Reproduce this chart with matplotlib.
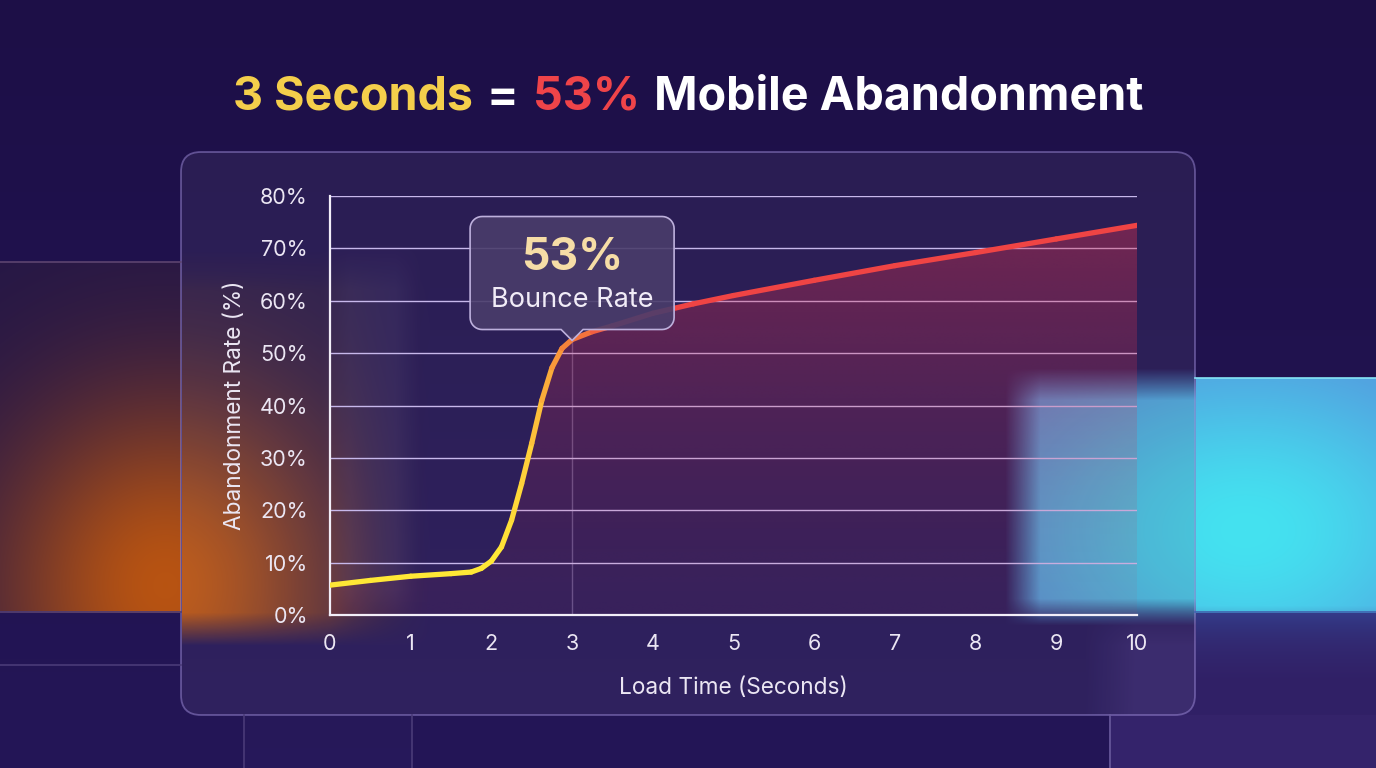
import numpy as np
import matplotlib
matplotlib.use("Agg")
import matplotlib.pyplot as plt
from matplotlib.collections import LineCollection
from matplotlib.colors import LinearSegmentedColormap, Normalize, to_rgb
from matplotlib.patches import FancyBboxPatch, Polygon

plt.rcParams['font.family'] = ['Inter', 'DejaVu Sans']

# data
load_time = [0, 0.5, 1, 1.5, 1.75, 1.875, 2, 2.125, 2.25, 2.375, 2.5, 2.625,
             2.75, 2.875, 3, 3.25, 3.5, 4, 4.5, 5, 6, 7, 8, 9, 10]
abandon_rate = [5.7, 6.6, 7.4, 7.9, 8.2, 8.9, 10.3, 13.0, 18.1, 25.1, 32.8, 41.0,
                47.2, 50.9, 52.6, 54.1, 55.2, 57.6, 59.4, 61.0, 63.9, 66.7, 69.2, 71.8, 74.4]
x_ticks = list(range(0, 11))
y_ticks = list(range(0, 81, 10))
callout_x = 3
callout_value = "53%"
callout_label = "Bounce Rate"
title_parts = [("3 Seconds", "#F4CE4B"), ("=", "#FFFFFF"), ("53%", "#EF4449"),
               ("Mobile Abandonment", "#FFFFFF")]

W, H = 1376, 768
fig = plt.figure(figsize=(W / 100, H / 100), dpi=100)


def ramp(v, a, b):
    return np.clip((v - a) / (b - a), 0, 1)


# ---- background picture (pure decoration) ----
yy, xx = np.mgrid[0:H, 0:W].astype(float)
t = (yy / H)[..., None]
img = np.array(to_rgb('#1d0f47')) * (1 - t) + np.array(to_rgb('#241657')) * t

# left block with orange glow
in_panel = (xx > 181) & (yy > 152) & (yy < 715)
left_mask = np.where(in_panel,
                     ramp(yy, 250, 290) * ramp(yy, 645, 612) * ramp(xx, 430, 330),
                     ((yy >= 262) & (yy <= 612) & (xx < 181)).astype(float))
left_fill = np.array(to_rgb('#261845'))
img = img * (1 - left_mask[..., None] * 0.8) + left_fill * left_mask[..., None] * 0.8
glow = np.exp(-0.5 * (((xx - 165) / 120) ** 2 + ((yy - 585) / 130) ** 2))
a = (left_mask * glow * 0.9)[..., None]
img = img * (1 - a) + np.array(to_rgb('#c85a0c')) * a

# faint lighter band behind the glass near the y axis
band = ramp(xx, 320, 350) * ramp(xx, 420, 395) * ramp(yy, 240, 290) * ramp(yy, 620, 590)
img = img + band[..., None] * 0.035

# right cyan block
right_mask = np.where(xx > 1195,
                      ((yy >= 378) & (yy <= 612)).astype(float),
                      ramp(xx, 1005, 1040) * ramp(yy, 368, 400) * ramp(yy, 625, 598) * 0.85)
cw = np.exp(-0.5 * (((xx - 1245) / 170) ** 2 + ((yy - 530) / 120) ** 2))[..., None]
cyan = np.array(to_rgb('#5a82d8')) * (1 - cw) + np.array(to_rgb('#44e2f0')) * cw
img = img * (1 - right_mask[..., None]) + cyan * right_mask[..., None]

# haze under the cyan block and lighter bottom-right corner
haze = ((xx > 1195) * ramp(yy, 680, 612) * (yy > 612))[..., None] * 0.45
img = img * (1 - haze) + np.array(to_rgb('#4a6fcf')) * haze
corner = np.where(in_panel, ramp(xx, 1085, 1135) * ramp(yy, 605, 645) * 0.6,
                  ((xx > 1110) & (yy > 612)).astype(float) * 0.75)
corner = corner[..., None] * (1 - haze)
img = img * (1 - corner) + np.array(to_rgb('#3a2872')) * corner
strip = ((xx > 244) & (xx < 412) & (yy > 715)).astype(float)[..., None] * 0.3
img = img * (1 - strip) + np.array(to_rgb('#2e2062')) * strip

bg = fig.add_axes([0, 0, 1, 1], zorder=0)
bg.imshow(np.clip(img, 0, 1), extent=[0, W, H, 0], aspect='auto', interpolation='bilinear')
bg.set_xlim(0, W)
bg.set_ylim(H, 0)
bg.axis('off')

line_col = '#4a3b78'
bg.plot([0, 181], [262, 262], color='#5d4470', lw=1.2)
bg.plot([0, 181], [612, 612], color=line_col, lw=1.2)
bg.plot([0, 181], [665, 665], color=line_col, lw=1.2)
bg.plot([244, 244], [715, H], color=line_col, lw=1.2)
bg.plot([412, 412], [715, H], color=line_col, lw=1.2)
bg.plot([1110, 1110], [715, H], color='#6c5ca0', lw=1.2)
bg.plot([1195, W], [378, 378], color='#86e4f5', lw=1.2)
bg.plot([1195, W], [612, 612], color='#3f63b0', lw=1.2)

# glass panel
bg.add_patch(FancyBboxPatch((181, 152), 1014, 563, boxstyle='round,pad=0,rounding_size=20',
                            fc=(1, 1, 1, 0.055), ec=(0.62, 0.55, 0.85, 0.5), lw=1.3))

# ---- chart ----
ax = fig.add_axes([330 / W, 1 - 615 / H, (1137 - 330) / W, (615 - 196) / H], zorder=2)
ax.set_facecolor('none')
ax.set_xlim(0, 10)
ax.set_ylim(0, 80)

# gradient fill under the curve
g = np.linspace(0, 1, 256)[:, None]
fill = np.zeros((256, 2, 4))
fill[..., :3] = to_rgb('#d9324f')
fill[..., 3] = 0.06 + 0.38 * g[:, :1] ** 1.4
poly = ax.fill_between(load_time, abandon_rate, 0, color='none', lw=0)
im = ax.imshow(fill, extent=[0, 10, 0, 80], origin='lower', aspect='auto', zorder=1,
               interpolation='bilinear')
im.set_clip_path(poly.get_paths()[0], transform=ax.transData)

# gradient line
pts = np.column_stack([load_time, abandon_rate])
segs = np.stack([pts[:-1], pts[1:]], axis=1)
cmap = LinearSegmentedColormap.from_list(
    'heat', [(0, '#FFE836'), (0.25, '#FFCF3A'), (0.55, '#F6803A'), (1, '#EF4444')])
lc = LineCollection(segs, cmap=cmap, norm=Normalize(2.05, 3.7), lw=3.8,
                    capstyle='round', joinstyle='round', zorder=4)
lc.set_array((pts[:-1, 0] + pts[1:, 0]) / 2)
ax.add_collection(lc)

v3 = abandon_rate[load_time.index(callout_x)]
ax.plot([callout_x, callout_x], [0, v3], color=(0.78, 0.72, 0.92, 0.35), lw=1, zorder=0.5)

ax.set_xticks(x_ticks)
ax.set_yticks(y_ticks)
ax.set_yticklabels([f"{v}%" for v in y_ticks])
ax.grid(axis='y', color=(0.78, 0.72, 0.92, 0.3), lw=1)
ax.set_axisbelow(True)
for s in ['top', 'right']:
    ax.spines[s].set_visible(False)
for s in ['left', 'bottom']:
    ax.spines[s].set_color('#f2eef8')
    ax.spines[s].set_linewidth(1.6)
ax.tick_params(length=0, labelsize=15.5, labelcolor='#ebe6f3')
ax.tick_params(axis='y', pad=16)
ax.tick_params(axis='x', pad=14)
ax.set_xlabel('Load Time (Seconds)', fontsize=16.3, color='#ebe6f3', labelpad=16)
ax.set_ylabel('Abandonment Rate (%)', fontsize=16.3, color='#ebe6f3', labelpad=10)

# ---- overlay: callout and title ----
ov = fig.add_axes([0, 0, 1, 1], zorder=5)
ov.set_facecolor('none')
ov.set_xlim(0, W)
ov.set_ylim(H, 0)
ov.axis('off')

px, py = ax.transData.transform((callout_x, v3))
cx, tip = px, H - py + 1
B, T = tip - 11, tip - 11 - 113
L, R, r = cx - 102, cx + 102, 12


def arc(xc, yc, a0, a1):
    ang = np.radians(np.linspace(a0, a1, 10))
    return list(zip(xc + r * np.cos(ang), yc + r * np.sin(ang)))


verts = (arc(R - r, T + r, -90, 0) + arc(R - r, B - r, 0, 90)
         + [(cx + 11, B), (cx, tip), (cx - 11, B)]
         + arc(L + r, B - r, 90, 180) + arc(L + r, T + r, 180, 270))
ov.add_patch(Polygon(verts, closed=True, fc=(0.29, 0.24, 0.42, 0.9), ec='#bdb0dc', lw=1.2))
ov.text(cx, T + 53, callout_value, ha='center', va='baseline', fontsize=32,
        fontweight='bold', color='#F6DDA6')
ov.text(cx, T + 90, callout_label, ha='center', va='baseline', fontsize=19.5, color='#F1ECF7')

renderer = fig.canvas.get_renderer()
texts = [ov.text(0, 110, s, ha='left', va='baseline', fontsize=33.6, fontweight='bold', color=c)
         for s, c in title_parts]
gap = 14
widths = [tx.get_window_extent(renderer).width for tx in texts]
x0 = W / 2 - (sum(widths) + gap * (len(widths) - 1)) / 2
for tx, w in zip(texts, widths):
    tx.set_x(x0)
    x0 += w + gap

fig.savefig('out.png', dpi=100)
